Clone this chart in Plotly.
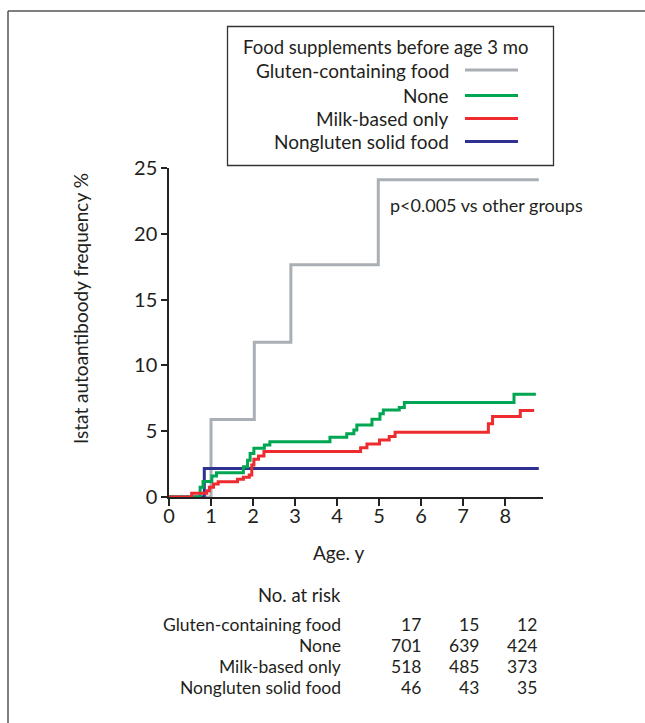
import plotly.graph_objects as go

# ---- data -------------------------------------------------------------
groups = ["Gluten-containing food", "None", "Milk-based only", "Nongluten solid food"]
colors = ["#A9AFB4", "#00A651", "#EE2B2E", "#2E3192"]

gluten_t = [0, 1.00, 2.03, 2.90, 4.98, 8.80]
gluten_y = [0, 5.88, 11.76, 17.65, 24.1, 24.1]

none_t = [0, 0.74, 0.81, 1.02, 1.13, 1.77, 1.87, 1.93, 2.02, 2.27, 2.40, 3.83,
          4.23, 4.40, 4.47, 4.83, 5.02, 5.10, 5.48, 5.60, 8.21, 8.73]
none_y = [0, 0.74, 1.17, 1.60, 1.85, 2.30, 2.80, 3.30, 3.70, 3.96, 4.20, 4.54,
          4.80, 5.10, 5.48, 5.91, 6.32, 6.62, 6.80, 7.18, 7.81, 7.81]

milk_t = [0, 0.54, 0.90, 0.96, 1.06, 1.17, 1.63, 1.77, 1.91, 1.97, 2.02, 2.13,
          2.26, 4.56, 4.71, 5.01, 5.24, 5.38, 7.60, 7.70, 8.36, 8.69]
milk_y = [0, 0.28, 0.48, 0.74, 0.99, 1.16, 1.35, 1.50, 1.67, 2.43, 2.87, 3.12,
          3.45, 3.75, 4.03, 4.34, 4.59, 4.92, 5.56, 6.11, 6.57, 6.57]

nongluten_t = [0, 0.84, 8.80]
nongluten_y = [0, 2.17, 2.17]

x_ticks = [0, 1, 2, 3, 4, 5, 6, 7, 8]
y_ticks = [0, 5, 10, 15, 20, 25]

legend_title = "Food supplements before age 3 mo"
p_note = "p<0.005 vs other groups"
risk_header = "No. at risk"
risk_counts = [[17, 15, 12], [701, 639, 424], [518, 485, 373], [46, 43, 35]]

# ---- layout geometry (pixels) -----------------------------------------
W, H = 645, 723
L, R, T, B = 169, 543, 168, 497
FONT = "Lato"
INK = "#231F20"
FS = 19
TABLE_FS = 17.5


def px(x):
    return (x - L) / (R - L)


def py(y):
    return (B - y) / (B - T)


def label(x, y, text, anchor, size=FS, **kw):
    a = dict(xref="paper", yref="paper", x=px(x), y=py(y), text=text, showarrow=False,
             xanchor=anchor, yanchor="middle", borderpad=0,
             font=dict(family=FONT, size=size, color=INK))
    a.update(kw)
    return a


fig = go.Figure()
series = [(gluten_t, gluten_y), (nongluten_t, nongluten_y), (none_t, none_y), (milk_t, milk_y)]
order = [0, 3, 1, 2]
for (t, v), gi in zip(series, order):
    fig.add_trace(go.Scatter(
        x=t, y=v, mode="lines", line=dict(color=colors[gi], width=3, shape="hv"),
        name=groups[gi], showlegend=False, hoverinfo="skip"))

shapes = []
annotations = []

# outer frame (left and top edges)
shapes.append(dict(type="line", xref="paper", yref="paper", x0=px(8), x1=px(8),
                   y0=py(11), y1=py(H + 5), line=dict(color="#555555", width=1.5)))
shapes.append(dict(type="line", xref="paper", yref="paper", x0=px(8), x1=px(W + 5),
                   y0=py(11), y1=py(11), line=dict(color="#555555", width=1.5)))

# legend box
shapes.append(dict(type="rect", xref="paper", yref="paper", x0=px(227.5), x1=px(553.5),
                   y0=py(26.5), y1=py(165.5), line=dict(color="#333333", width=1.3),
                   fillcolor="white"))
annotations.append(label(242, 47, legend_title, "left", size=18.5))
legend_rows = [70, 95.5, 118.5, 141.5]
for gi, yy in enumerate(legend_rows):
    annotations.append(label(450, yy, groups[gi], "right"))
    shapes.append(dict(type="line", xref="paper", yref="paper", x0=px(465), x1=px(518),
                       y0=py(yy), y1=py(yy), line=dict(color=colors[gi], width=3)))

# p-value note
annotations.append(label(389, 205, p_note, "left", size=18))

# axis titles
annotations.append(label(338, 552, "Age. y", "center"))
annotations.append(label(80, 309, "Istat autoantiboody frequency %", "center", textangle=-90))

# number-at-risk table
annotations.append(label(342, 595, risk_header, "right", size=18.5))
TABLE_MID, ROW_PITCH = 656, 21.2
risk_rows = [TABLE_MID + (i - 1.5) * ROW_PITCH for i in range(len(groups))]
risk_cols = [422, 480, 538]
for gi, yy in enumerate(risk_rows):
    annotations.append(label(342, yy, groups[gi], "right", size=TABLE_FS))
    for n, xx in zip(risk_counts[gi], risk_cols):
        annotations.append(label(xx, yy, str(n), "right", size=TABLE_FS))

axis_common = dict(showgrid=False, zeroline=False, showline=True, linecolor="#222222",
                   linewidth=1.5, ticks="outside", tickcolor="#222222", tickwidth=1.5,
                   tickfont=dict(family=FONT, size=20, color=INK))

fig.update_layout(
    width=W, height=H,
    margin=dict(l=L, r=W - R, t=T, b=H - B, pad=0),
    paper_bgcolor="white", plot_bgcolor="white",
    showlegend=False,
    xaxis=dict(range=[0, 8.9], tickvals=x_ticks, ticklen=7, ticklabelstandoff=-7,
               **axis_common),
    yaxis=dict(range=[0, 25], tickvals=y_ticks, ticklen=6, **axis_common),
    shapes=shapes,
    annotations=annotations,
)

fig.write_html("out.html")
